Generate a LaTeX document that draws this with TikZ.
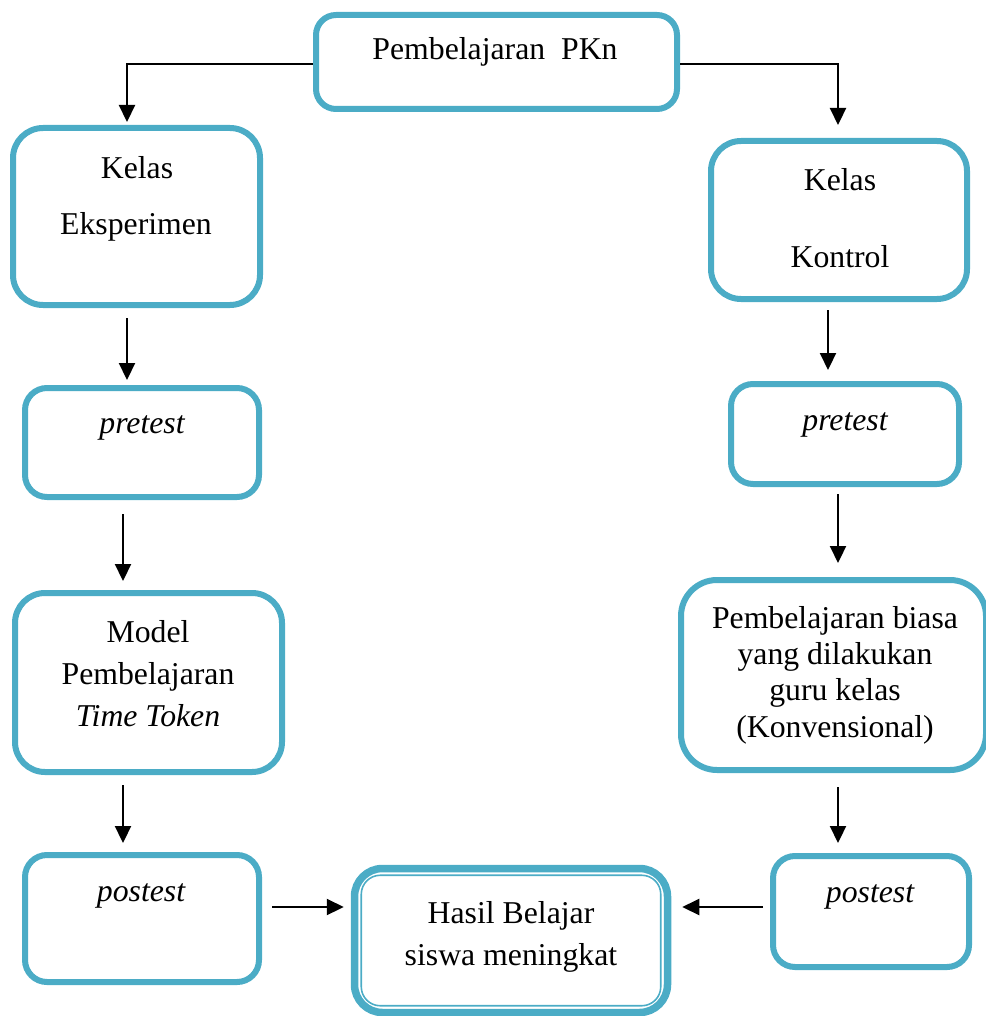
\documentclass[tikz,border=0pt]{standalone}
\usepackage{fontspec}
\setmainfont{Liberation Serif}
\usetikzlibrary{arrows.meta}
\definecolor{boxc}{HTML}{4BACC6}
\begin{document}
\begin{tikzpicture}[x=1pt,y=-1pt,
  box/.style={draw=boxc,line width=6pt,rounded corners=#1,inner sep=0pt,fill=white},
  box/.default=26pt,
  txt/.style={anchor=base,inner sep=0pt,font=\fontsize{31.75}{36}\selectfont},
  arr/.style={line width=2.2pt,-{Triangle[width=16pt,length=17pt]}}]
\useasboundingbox (0,0) rectangle (985,1016);
% boxes
\node[box=20pt,minimum width=361pt,minimum height=94pt] (top) at (496.5,62) {};
\node[box=30pt,minimum width=247pt,minimum height=177pt] (kelasE) at (136.5,216.5) {};
\node[box=22pt,minimum width=234pt,minimum height=109pt] (preE) at (142,442.5) {};
\node[box=30pt,minimum width=267pt,minimum height=179pt] (model) at (148.5,682.5) {};
\node[box=22pt,minimum width=234pt,minimum height=127pt] (postE) at (142,918.5) {};
\node[draw=boxc,line width=7.5pt,rounded corners=28pt,minimum width=313pt,minimum height=144pt,inner sep=0pt] (hasil) at (511,940.5) {};
\draw[boxc,line width=1.6pt,rounded corners=19pt] ([shift={(10.5,10.5)}]hasil.north west) rectangle ([shift={(-10.5,-10.5)}]hasil.south east);
\node[box=30pt,minimum width=256pt,minimum height=158pt] (kontrol) at (839,220) {};
\node[box=22pt,minimum width=228pt,minimum height=100pt] (preK) at (845,434) {};
\node[box=36pt,minimum width=305pt,minimum height=190pt] (konv) at (833.5,675) {};
\node[box=22pt,minimum width=196pt,minimum height=111pt] (postK) at (871,911.5) {};
% texts
\node[txt] (t1) at (495,60) {Pembelajaran\ \ PKn};
\node[txt] (t2) at (137,179) {Kelas};
\node[txt] (t3) at (136,234) {Eksperimen};
\node[txt] (t4) at (142,433) {\itshape pretest};
\node[txt] (t5) at (148,642) {Model};
\node[txt] (t6) at (148,684) {Pembelajaran};
\node[txt] (t7) at (148,726) {\itshape Time Token};
\node[txt] (t8) at (141,901) {\itshape postest};
\node[txt] (t9) at (511,923) {Hasil Belajar};
\node[txt] (t10) at (511,965) {siswa meningkat};
\node[txt] (t11) at (840,191) {Kelas};
\node[txt] (t12) at (840,267) {Kontrol};
\node[txt] (t13) at (845,430) {\itshape pretest};
\node[txt] (t14) at (835,628) {Pembelajaran biasa};
\node[txt] (t15) at (835,664) {yang dilakukan};
\node[txt] (t16) at (835,700) {guru kelas};
\node[txt] (t17) at (835,737) {(Konvensional)};
\node[txt] (t18) at (870,902) {\itshape postest};
% connectors
\draw[arr,shorten >=3pt] ([yshift=-2]top.west) -| ([xshift=-9.5]kelasE.north);
\draw[arr,shorten >=13pt] ([yshift=-2]top.east) -| ([xshift=-1]kontrol.north);
\draw[arr,shorten <=10pt,shorten >=5pt] ([xshift=-9.5]kelasE.south) -- ([xshift=-15]preE.north);
\draw[arr,shorten <=14pt,shorten >=9pt] ([xshift=-19]preE.south) -- ([xshift=-25.5]model.north);
\draw[arr,shorten <=10pt,shorten >=9pt] ([xshift=-25.5]model.south) -- ([xshift=-19]postE.north);
\draw[arr,shorten <=10pt,shorten >=7pt] ([yshift=11.5]postE.east) -- ([yshift=33.5]hasil.west);
\draw[arr,shorten <=8pt,shorten >=11pt] ([xshift=-11]kontrol.south) -- ([xshift=-17]preK.north);
\draw[arr,shorten <=7pt,shorten >=14pt] ([xshift=-7]preK.south) -- ([xshift=4.5]konv.north);
\draw[arr,shorten <=14pt,shorten >=10pt] ([xshift=4.5]konv.south) -- ([xshift=-33]postK.north);
\draw[arr,shorten <=7pt,shorten >=11pt] ([yshift=4.5]postK.west) -- ([yshift=33.5]hasil.east);
\end{tikzpicture}
\end{document}
